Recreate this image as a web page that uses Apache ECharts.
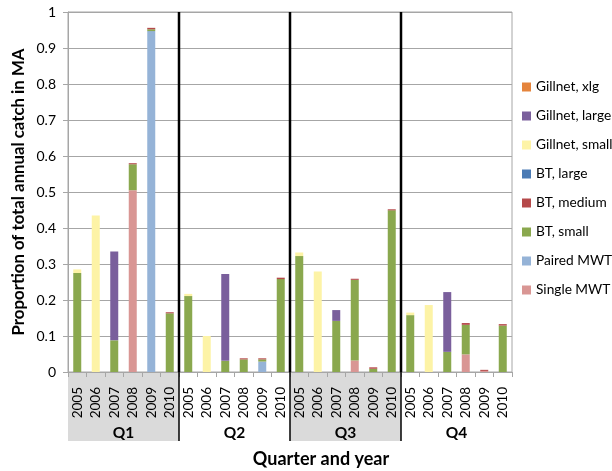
<!DOCTYPE html>
<html>
<head>
<meta charset="utf-8">
<script src="https://cdn.jsdelivr.net/npm/echarts@6/dist/echarts.min.js"></script>
<style>
  html, body { margin: 0; padding: 0; background: #fff; }
  #chart { width: 612px; height: 471px; }
</style>
</head>
<body>
<div id="chart"></div>
<script>
// Quarters and years on the two-level category axis
var quarters = ['Q1', 'Q2', 'Q3', 'Q4'];
var years = ['2005', '2006', '2007', '2008', '2009', '2010'];

// Proportion of total annual catch, one value per quarter/year (Q1 2005 ... Q4 2010)
var singleMWT   = [0, 0, 0, 0.505, 0, 0,      0, 0, 0, 0, 0, 0,            0, 0, 0, 0.032, 0, 0,       0, 0, 0, 0.049, 0.003, 0];
var pairedMWT   = [0, 0, 0, 0, 0.947, 0,      0, 0, 0, 0, 0.029, 0,        0, 0, 0, 0, 0, 0,           0, 0, 0, 0, 0, 0];
var btSmall     = [0.275, 0, 0.088, 0.072, 0.005, 0.163,  0.211, 0, 0.031, 0.035, 0.006, 0.258,  0.322, 0, 0.142, 0.224, 0.009, 0.449,  0.158, 0, 0.056, 0.082, 0, 0.129];
var btMedium    = [0, 0, 0, 0.003, 0.004, 0.003,  0, 0, 0, 0.003, 0.003, 0.004,  0, 0, 0, 0.003, 0.004, 0.003,  0, 0, 0, 0.005, 0.003, 0.004];
var btLarge     = [0, 0, 0, 0, 0, 0,          0, 0, 0, 0, 0, 0,            0, 0, 0, 0, 0, 0,           0, 0, 0, 0, 0, 0];
var gillSmall   = [0.010, 0.435, 0, 0, 0, 0,  0.006, 0.100, 0, 0, 0, 0,    0.010, 0.279, 0, 0, 0, 0,   0.007, 0.186, 0, 0, 0, 0];
var gillLarge   = [0, 0, 0.247, 0, 0, 0,      0, 0, 0.241, 0, 0, 0,        0, 0, 0.030, 0, 0, 0,       0, 0, 0.166, 0, 0, 0];
var gillXlg     = [0, 0, 0, 0, 0, 0,          0, 0, 0, 0, 0, 0,            0, 0, 0, 0, 0, 0,           0, 0, 0, 0, 0, 0];

var yTicks = { min: 0, max: 1, interval: 0.1 };

var categories = [];
quarters.forEach(function (q) {
  years.forEach(function (y) { categories.push(q + ' ' + y); });
});

var FONT = 'Lato';
var stackDefs = [
  { name: 'Single MWT',    data: singleMWT, color: '#d99694' },
  { name: 'Paired MWT',    data: pairedMWT, color: '#95b3d7' },
  { name: 'BT, small',     data: btSmall,   color: '#8aa84e' },
  { name: 'BT, medium',    data: btMedium,  color: '#b5494a' },
  { name: 'BT, large',     data: btLarge,   color: '#4a7ab4' },
  { name: 'Gillnet, small',data: gillSmall, color: '#fdf3a6' },
  { name: 'Gillnet, large',data: gillLarge, color: '#7a5f9c' },
  { name: 'Gillnet, xlg',  data: gillXlg,   color: '#e5843c' }
];

var chart = echarts.init(document.getElementById('chart'), null, { renderer: 'canvas' });

var option = {
  animation: false,
  backgroundColor: '#ffffff',
  textStyle: { fontFamily: FONT },
  grid: { left: 68, right: 100, top: 12, bottom: 99, show: true, borderColor: '#a6a6a6', borderWidth: 1 },
  legend: {
    orient: 'vertical',
    left: 517,
    top: 74,
    icon: 'rect',
    itemWidth: 9,
    itemHeight: 9,
    itemGap: 13,
    textStyle: { fontFamily: FONT, fontSize: 13.7, color: '#000', lineHeight: 16 },
    data: stackDefs.map(function (s) { return s.name; }).reverse()
  },
  xAxis: [
    {
      type: 'category',
      data: categories,
      boundaryGap: true,
      axisLine: { lineStyle: { color: '#a6a6a6', width: 1 } },
      axisTick: { show: true, length: 5, interval: 0, lineStyle: { color: '#a6a6a6' } },
      axisLabel: {
        interval: 0,
        rotate: 90,
        margin: 15,
        fontFamily: FONT,
        fontSize: 13.5,
        color: '#000',
        formatter: function (v) { return v.split(' ')[1]; }
      },
      splitLine: { show: false }
    },
    {
      type: 'category',
      data: quarters,
      position: 'bottom',
      offset: 50,
      boundaryGap: true,
      axisLine: { show: false },
      axisTick: { show: false },
      axisLabel: { margin: 3, fontFamily: FONT, fontSize: 15.5, fontWeight: 'bold', color: '#000' }
    }
  ],
  yAxis: {
    type: 'value',
    min: yTicks.min,
    max: yTicks.max,
    interval: yTicks.interval,
    axisLine: { show: true, lineStyle: { color: '#a6a6a6', width: 1 } },
    axisTick: { show: true, length: 5, lineStyle: { color: '#a6a6a6' } },
    axisLabel: { margin: 12, fontFamily: FONT, fontSize: 14, color: '#000' },
    splitLine: { lineStyle: { color: '#a6a6a6', width: 1 } }
  },
  series: stackDefs.map(function (s) {
    return {
      name: s.name,
      type: 'bar',
      stack: 'total',
      xAxisIndex: 0,
      barWidth: 8,
      itemStyle: { color: s.color },
      data: s.data
    };
  })
};

chart.setOption(option);

// Shaded quarter bands under the axis, black quarter separators and axis titles
function drawQuarterDecor() {
  var x0 = chart.convertToPixel({ xAxisIndex: 0 }, 0);
  var x1 = chart.convertToPixel({ xAxisIndex: 0 }, 1);
  var step = x1 - x0;
  var yBottom = chart.convertToPixel({ yAxisIndex: 0 }, yTicks.min);
  var yTop = chart.convertToPixel({ yAxisIndex: 0 }, yTicks.max);
  var bandBottom = yBottom + 69;
  var els = [];
  quarters.forEach(function (q, qi) {
    var left = x0 - step / 2 + qi * years.length * step;
    var width = years.length * step;
    if (qi % 2 === 0) {
      els.push({
        type: 'rect', z: -10, silent: true,
        shape: { x: left, y: yBottom + 1, width: width, height: bandBottom - yBottom - 1 },
        style: { fill: '#dadada' }
      });
    }
    if (qi > 0) {
      els.push({
        type: 'line', z: 100, silent: true,
        shape: { x1: left, y1: yTop, x2: left, y2: yBottom },
        style: { stroke: '#000', lineWidth: 2.5 }
      });
      els.push({
        type: 'line', z: 100, silent: true,
        shape: { x1: left, y1: yBottom, x2: left, y2: bandBottom },
        style: { stroke: '#000', lineWidth: 1.5 }
      });
    }
  });
  els.push({
    type: 'text', z: 100, silent: true,
    x: 321, y: 459,
    style: {
      text: 'Quarter and year', fontFamily: FONT, fontSize: 18, fontWeight: 'bold',
      fill: '#000', align: 'center', verticalAlign: 'middle'
    }
  });
  els.push({
    type: 'text', z: 100, silent: true,
    x: 18.5, y: (yTop + yBottom) / 2, rotation: Math.PI / 2,
    style: {
      text: 'Proportion of total annual catch in MA', fontFamily: FONT, fontSize: 16.8, fontWeight: 'bold',
      fill: '#000', align: 'center', verticalAlign: 'middle'
    }
  });
  chart.setOption({ graphic: { elements: els } });
}
drawQuarterDecor();
</script>
</body>
</html>
